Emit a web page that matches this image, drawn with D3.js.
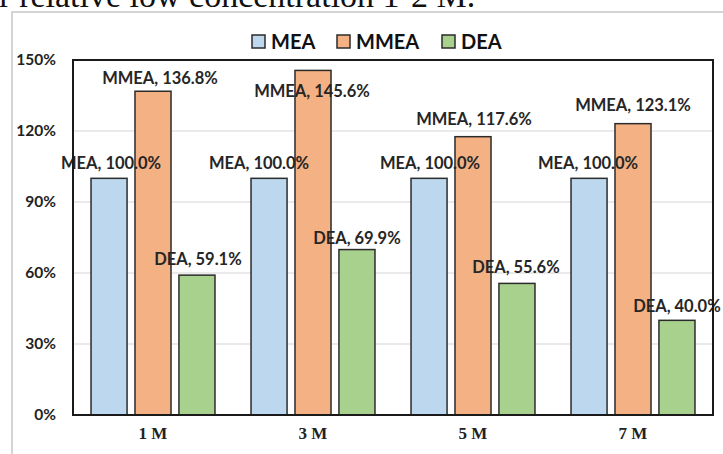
<!DOCTYPE html>
<html>
<head>
<meta charset="utf-8">
<script src="https://cdn.jsdelivr.net/npm/d3@7"></script>
<style>
  html, body { margin: 0; padding: 0; background: #fff; }
  svg { display: block; }
</style>
</head>
<body>
<svg id="chart" width="723" height="454"></svg>
<script>
// Concentrations on the x axis
const categories = ["1 M", "3 M", "5 M", "7 M"];
// Relative values (%) for each amine
const seriesNames = ["MEA", "MMEA", "DEA"];
const meaValues  = [100.0, 100.0, 100.0, 100.0];
const mmeaValues = [136.8, 145.6, 117.6, 123.1];
const deaValues  = [59.1, 69.9, 55.6, 40.0];
const yTicks = [0, 30, 60, 90, 120, 150];

const seriesValues = [meaValues, mmeaValues, deaValues];
const colors = ["#bdd7ee", "#f4b183", "#a9d18e"];
// Shifts of individual value labels away from their default spot above the bar
const labelNudgeY = [
  [1, 1, 1, 1],
  [3, 37, -1, -2],
  [0, 5, 0, 2]
];
const labelNudgeX = [
  [2, -10, 1, -1],
  [7, -1, 1, 0],
  [1, 0, -1, 0]
];

const svg = d3.select("#chart");
const W = 723, H = 454;
const plot = { left: 73, right: 713, top: 60, bottom: 415 };

// Caption line of the surrounding page text
svg.append("text")
  .attr("x", -29).attr("y", 7)
  .attr("font-family", "Liberation Serif, Times New Roman, serif")
  .attr("font-size", 34)
  .attr("fill", "#111")
  .text("for relative low concentration 1-2 M.");

// Outer chart frame
svg.append("rect")
  .attr("x", 12).attr("y", 12)
  .attr("width", W + 20).attr("height", H + 20)
  .attr("fill", "none")
  .attr("stroke", "#d4d4d4")
  .attr("stroke-width", 2);

const x0 = d3.scaleBand().domain(categories).range([plot.left, plot.right]).paddingInner(0).paddingOuter(0);
const x1 = d3.scaleBand().domain(seriesNames).range([0, x0.bandwidth()]).paddingInner(0.18).paddingOuter(0.41);
const y = d3.scaleLinear().domain([0, 150]).range([plot.bottom, plot.top]);

// Gridlines
svg.append("g").selectAll("line")
  .data(yTicks.filter(t => t > 0 && t < 150))
  .join("line")
  .attr("x1", plot.left).attr("x2", plot.right)
  .attr("y1", d => y(d)).attr("y2", d => y(d))
  .attr("stroke", "#e3e3e3").attr("stroke-width", 1.5);

// Y axis labels
const yAxis = d3.axisLeft(y).tickValues(yTicks).tickFormat(d => d + "%").tickSize(0).tickPadding(17);
const ya = svg.append("g").attr("transform", `translate(${plot.left},0)`).call(yAxis);
ya.select(".domain").remove();
ya.selectAll("text")
  .attr("font-family", "Lato, Open Sans, sans-serif")
  .attr("font-weight", "bold")
  .attr("font-size", 15.5)
  .attr("fill", "#222");

// Bars
const groups = svg.append("g").selectAll("g")
  .data(categories)
  .join("g")
  .attr("transform", d => `translate(${x0(d)},0)`);

groups.selectAll("rect")
  .data((c, ci) => seriesNames.map((s, si) => ({ s, si, ci, v: seriesValues[si][ci] })))
  .join("rect")
  .attr("x", d => x1(d.s))
  .attr("y", d => y(d.v))
  .attr("width", x1.bandwidth())
  .attr("height", d => y(0) - y(d.v))
  .attr("fill", d => colors[d.si])
  .attr("stroke", "#2b2b2b")
  .attr("stroke-width", 1.5);

// Plot frame
svg.append("rect")
  .attr("x", plot.left).attr("y", plot.top)
  .attr("width", plot.right - plot.left).attr("height", plot.bottom - plot.top)
  .attr("fill", "none")
  .attr("stroke", "#1a1a1a")
  .attr("stroke-width", 2);

// Value labels
groups.selectAll("text.val")
  .data((c, ci) => seriesNames.map((s, si) => ({ s, si, ci, v: seriesValues[si][ci] })))
  .join("text")
  .attr("class", "val")
  .attr("x", d => x1(d.s) + x1.bandwidth() / 2 + labelNudgeX[d.si][d.ci])
  .attr("y", d => y(d.v) - 16 + labelNudgeY[d.si][d.ci])
  .attr("dy", "0.35em")
  .attr("text-anchor", "middle")
  .attr("font-family", "Lato, Open Sans, sans-serif")
  .attr("font-weight", "bold")
  .attr("font-size", 16.5)
  .attr("fill", "#262626")
  .text(d => `${d.s}, ${d.v.toFixed(1)}%`);

// X axis category labels
const xAxis = d3.axisBottom(x0).tickSize(0).tickPadding(12);
const xa = svg.append("g").attr("transform", `translate(0,${plot.bottom})`).call(xAxis);
xa.select(".domain").remove();
xa.selectAll("text")
  .attr("font-family", "Liberation Serif, Times New Roman, serif")
  .attr("font-weight", "bold")
  .attr("font-size", 17)
  .attr("fill", "#222");

// Legend
const legendX = [252, 337, 442];
const legend = svg.append("g").selectAll("g")
  .data(seriesNames)
  .join("g")
  .attr("transform", (d, i) => `translate(${legendX[i]},42)`);
legend.append("rect")
  .attr("x", 0).attr("y", -7).attr("width", 13).attr("height", 13)
  .attr("fill", (d, i) => colors[i])
  .attr("stroke", "#2b2b2b").attr("stroke-width", 1.5);
legend.append("text")
  .attr("x", 19).attr("y", 0).attr("dy", "0.35em")
  .attr("font-family", "Lato, Open Sans, sans-serif")
  .attr("font-weight", "bold")
  .attr("font-size", 20)
  .attr("fill", "#111")
  .text(d => d);
</script>
</body>
</html>
